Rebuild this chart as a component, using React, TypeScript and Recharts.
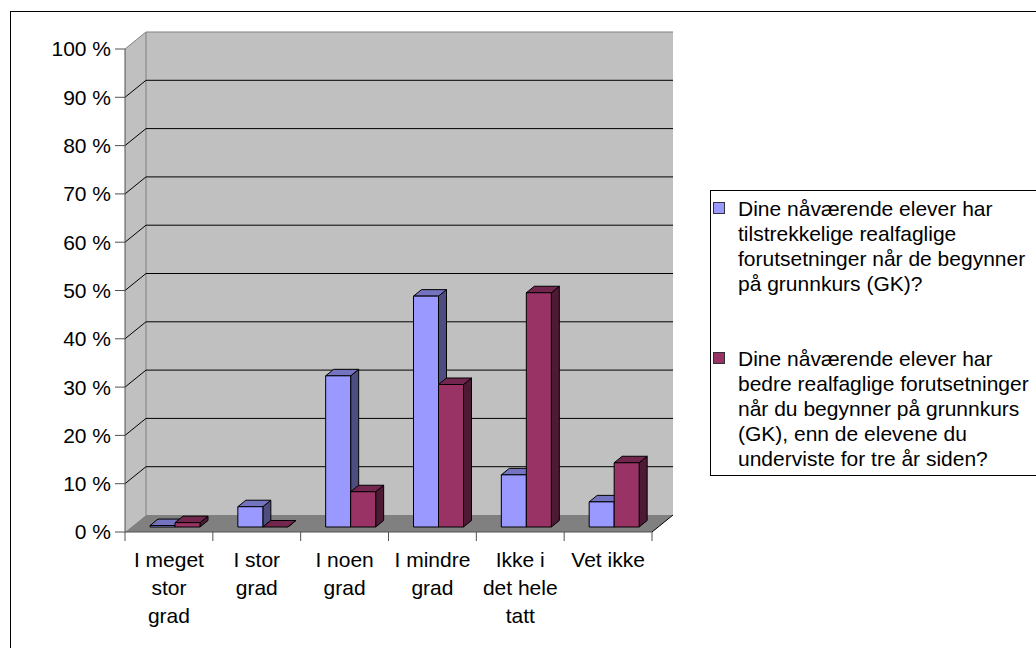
import React from "react";
import { BarChart, Bar, XAxis, YAxis, CartesianGrid, ReferenceArea, Legend } from "recharts";

const categories = ["I meget stor grad", "I stor grad", "I noen grad", "I mindre grad", "Ikke i det hele tatt", "Vet ikke"];
const categoryLines = [
  ["I meget", "stor", "grad"],
  ["I stor", "grad"],
  ["I noen", "grad"],
  ["I mindre", "grad"],
  ["Ikke i", "det hele", "tatt"],
  ["Vet ikke"],
];
const tilstrekkelige = [0.3, 4.2, 31.3, 47.8, 10.8, 5.2];
const bedre = [0.9, 0, 7.3, 29.5, 48.5, 13.3];
const seriesKeys = ["tilstrekkelige", "bedre"];
const seriesLines = [
  ["Dine nåværende elever har", "tilstrekkelige realfaglige", "forutsetninger når de begynner", "på grunnkurs (GK)?"],
  ["Dine nåværende elever har", "bedre realfaglige forutsetninger", "når du begynner på grunnkurs", "(GK), enn de elevene du", "underviste for tre år siden?"],
];
const percentTicks = [0, 10, 20, 30, 40, 50, 60, 70, 80, 90, 100];
const gridValues = [10, 20, 30, 40, 50, 60, 70, 80, 90];

const FONT = '"Liberation Sans", Arial, sans-serif';
const AXIS = "#505050";
const WALL = "#c0c0c0";
const FLOOR = "#808080";
const BLUE = { front: "#9999ff", side: "#4d4d80", top: "#7373bf" };
const PLUM = { front: "#993366", side: "#4d1a33", top: "#73264d" };
const seriesColors = [BLUE, PLUM];

// 3D depth of the walls and of the boxes
const WALL_DX = 21;
const WALL_DY = -17;
const BAR_SHIFT_X = 6;
const BAR_SHIFT_Y = -5;
const BAR_DX = 8;
const BAR_DY = -6.5;

const chartData = categories.map((category, i) => ({
  category,
  tilstrekkelige: tilstrekkelige[i],
  bedre: bedre[i],
}));

function box3d(colors: { front: string; side: string; top: string }) {
  return (props: any) => {
    const { x, y, width, height } = props;
    if (x == null || y == null) return <g />;
    const x0 = x + BAR_SHIFT_X;
    const y0 = y + BAR_SHIFT_Y;
    const x1 = x0 + width;
    const y1 = y0 + (height || 0);
    return (
      <g stroke="#000" strokeWidth={1} strokeLinejoin="round">
        <polygon
          points={`${x1},${y0} ${x1 + BAR_DX},${y0 + BAR_DY} ${x1 + BAR_DX},${y1 + BAR_DY} ${x1},${y1}`}
          fill={colors.side}
        />
        <polygon
          points={`${x0},${y0} ${x0 + BAR_DX},${y0 + BAR_DY} ${x1 + BAR_DX},${y0 + BAR_DY} ${x1},${y0}`}
          fill={colors.top}
        />
        <rect x={x0} y={y0} width={width} height={height || 0} fill={colors.front} />
      </g>
    );
  };
}

// side wall, back wall and floor of the 3D plot box
const renderWalls = (props: any) => {
  const { x, y, width, height } = props;
  const left = x;
  const right = x + width;
  const top = y;
  const bottom = y + height;
  return (
    <g>
      <polygon
        points={`${left},${top} ${left + WALL_DX},${top + WALL_DY} ${left + WALL_DX},${bottom + WALL_DY} ${left},${bottom}`}
        fill={WALL}
      />
      <rect x={left + WALL_DX} y={top + WALL_DY} width={width} height={height} fill={WALL} />
      <line x1={left} y1={top} x2={left + WALL_DX} y2={top + WALL_DY} stroke="#808080" />
      <line x1={left + WALL_DX} y1={top + WALL_DY} x2={right + WALL_DX} y2={top + WALL_DY} stroke="#808080" />
      <line x1={left + WALL_DX} y1={top + WALL_DY} x2={left + WALL_DX} y2={bottom + WALL_DY} stroke="#808080" />
      <polygon
        points={`${left},${bottom} ${right},${bottom} ${right + WALL_DX},${bottom + WALL_DY} ${left + WALL_DX},${bottom + WALL_DY}`}
        fill={FLOOR}
      />
      <line x1={right} y1={bottom} x2={right + WALL_DX} y2={bottom + WALL_DY} stroke="#000" />
    </g>
  );
};

const renderGridLine = (props: any) => {
  const { x1, y1, x2 } = props;
  return (
    <g key={props.key ?? `${y1}`}>
      <line x1={x1} y1={y1} x2={x1 + WALL_DX} y2={y1 + WALL_DY} stroke="#000" />
      <line x1={x1 + WALL_DX} y1={y1 + WALL_DY} x2={x2 + WALL_DX} y2={y1 + WALL_DY} stroke="#000" />
    </g>
  );
};

const CategoryTick = (props: any) => {
  const { x, y, payload, index, visibleTicksCount } = props;
  const half = payload?.offset || 43.9;
  const lines = categoryLines[index] ?? [String(payload?.value)];
  return (
    <g>
      <line x1={x - half} y1={y} x2={x - half} y2={y + 9} stroke={AXIS} />
      {index === visibleTicksCount - 1 && <line x1={x + half} y1={y} x2={x + half} y2={y + 9} stroke={AXIS} />}
      <text textAnchor="middle" fontFamily={FONT} fontSize={21} fill="#000">
        {lines.map((line, i) => (
          <tspan key={i} x={x} y={y + 28 * (i + 1)} dy="0.35em">
            {line}
          </tspan>
        ))}
      </text>
    </g>
  );
};

const legendTops = [4.5, 154.5];

const renderLegend = () => (
  <div
    style={{
      position: "relative",
      width: 400,
      height: 286,
      boxSizing: "border-box",
      border: "1px solid #000",
      background: "#fff",
      fontFamily: FONT,
      fontSize: 21,
      lineHeight: "25px",
      color: "#000",
    }}
  >
    {seriesKeys.map((key, i) => (
      <div key={key} style={{ position: "absolute", left: 0, top: legendTops[i] }}>
        <span
          style={{
            position: "absolute",
            left: 2,
            top: 6.5,
            width: 12,
            height: 12,
            boxSizing: "border-box",
            background: seriesColors[i].front,
            border: "1px solid #333",
          }}
        />
        {seriesLines[i].map((line, j) => (
          <div key={j} style={{ marginLeft: 27, whiteSpace: "nowrap" }}>
            {line}
          </div>
        ))}
      </div>
    ))}
  </div>
);

export default function App() {
  return (
    <div style={{ position: "absolute", left: 0, top: 0, width: 1036, height: 648, overflow: "hidden", background: "#fff" }}>
      <div
        style={{
          position: "absolute",
          left: 10,
          top: 11,
          width: 1200,
          height: 800,
          border: "1px solid #000",
        }}
      />
      <div style={{ position: "absolute", left: 0, top: 0 }}>
        <BarChart
          width={1036}
          height={648}
          data={chartData}
          margin={{ top: 49, right: 384, bottom: 16, left: 65 }}
          barGap={0}
          barSize={25}
        >
          <ReferenceArea y1={0} y2={100} shape={renderWalls} zIndex={-200} ifOverflow="visible" />
          <CartesianGrid
            vertical={false}
            horizontalValues={gridValues}
            horizontal={renderGridLine}
            zIndex={-100}
          />
          <XAxis
            dataKey="category"
            interval={0}
            height={100}
            tickLine={false}
            tickSize={0}
            tickMargin={0}
            axisLine={{ stroke: AXIS }}
            tick={<CategoryTick />}
          />
          <YAxis
            type="number"
            domain={[0, 100]}
            ticks={percentTicks}
            interval={0}
            width={60}
            tickSize={10}
            tickMargin={4}
            tickFormatter={(v: number) => `${v} %`}
            axisLine={{ stroke: AXIS }}
            tickLine={{ stroke: AXIS }}
            tick={{ fill: "#000", fontSize: 21, fontFamily: FONT }}
          />
          <Legend
            layout="horizontal"
            align="center"
            verticalAlign="middle"
            content={renderLegend}
            wrapperStyle={{ left: 710, top: 190, width: 400, height: 286 }}
          />
          {seriesKeys.map((key, i) => (
            <Bar
              key={key}
              dataKey={key}
              name={seriesLines[i].join(" ")}
              fill={seriesColors[i].front}
              shape={box3d(seriesColors[i])}
              isAnimationActive={false}
            />
          ))}
        </BarChart>
      </div>
    </div>
  );
}
